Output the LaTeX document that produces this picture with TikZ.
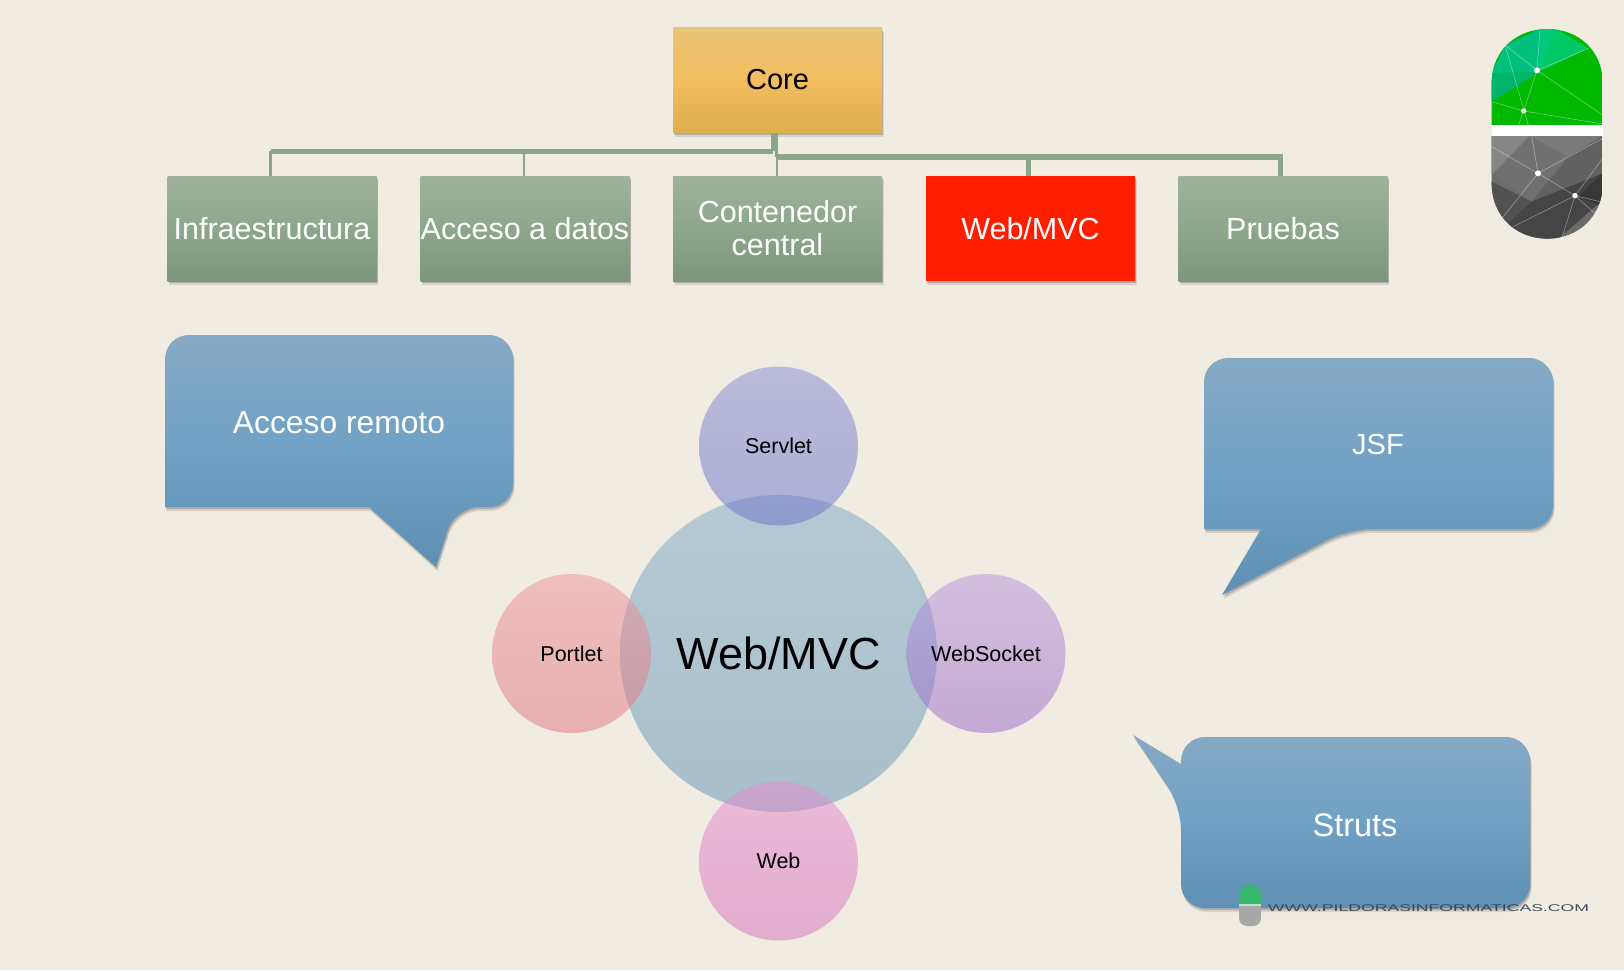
\documentclass[tikz,border=0pt]{standalone}
\usepackage{fontspec}
\setmainfont{Liberation Sans}
\usetikzlibrary{shadows}
\definecolor{pagebg}{HTML}{F0ECE2}
\definecolor{linegreen}{HTML}{8CA68C}
\begin{document}
\begin{tikzpicture}[x=1pt,y=-1pt,
	softshadow/.style={general shadow={shadow xshift=1.5pt,shadow yshift=-4pt,opacity=.1,fill=black},
		general shadow={shadow xshift=1pt,shadow yshift=-2pt,opacity=.18,fill=black}},
	orgbox/.style={rectangle,softshadow,minimum width=209pt,minimum height=105pt,inner sep=0pt,align=center},
	greenbox/.style={orgbox,top color=HTMLgreentop,bottom color=HTMLgreenbot,middle color=HTMLgreenmid,text=white,
		font=\fontsize{30.5}{33}\selectfont},
	bubble/.style={circle,inner sep=0pt,fill opacity=.5,text opacity=1,font=\fontsize{21.5}{24}\selectfont,minimum size=159pt},
	callout/.style={softshadow,top color=HTMLblue top,bottom color=HTMLblue bot,middle color=HTMLblue mid},
	callouttext/.style={text=white,inner sep=0pt},
	branch/.style={line width=5.3pt,color=linegreen},
	trunk/.style={line width=3.5pt,color=linegreen},
	facetline/.style={line width=.5pt,color=white,opacity=.45}]
	\useasboundingbox (0,0) rectangle (1624,970);
	\fill[pagebg] (0,0) rectangle (1624,970);

	%top row of boxes
	\colorlet{HTMLgreentop}{pagebg}
	\definecolor{HTMLgreentop}{HTML}{9FB29D}\definecolor{HTMLgreenmid}{HTML}{8CA78C}\definecolor{HTMLgreenbot}{HTML}{7B967A}
	\definecolor{HTMLblue top}{HTML}{87A9C4}\definecolor{HTMLblue mid}{HTML}{70A1C4}\definecolor{HTMLblue bot}{HTML}{5D90B4}
	\node[orgbox,top color={rgb,255:red,233;green,197;blue,120},bottom color={rgb,255:red,223;green,174;blue,78},
		middle color={rgb,255:red,242;green,189;blue,94},font=\fontsize{29}{33}\selectfont] (core) at (777.5,80){Core};
	\node[greenbox] (infra) at (272,228.5){Infraestructura};
	\node[greenbox] (datos) at (525,228.5){Acceso a datos};
	\node[greenbox] (contenedor) at (777.5,228.5){Contenedor\\central};
	\node[orgbox,fill={rgb,255:red,255;green,30;blue,0},text=white,font=\fontsize{30.5}{33}\selectfont] (webmvc) at (1030.5,228.5){Web/MVC};
	\node[greenbox] (pruebas) at (1283,228.5){Pruebas};

	%the two branches under core
	\coordinate (lefthub) at (773,151.3);
	\coordinate (righthub) at (776.5,157);
	\draw[trunk] (core.south -| lefthub) -- (lefthub);
	\draw[trunk] (core.south -| righthub) -- (righthub);
	\draw[branch] (lefthub) -- ([xshift=-1.5pt]lefthub -| infra.north);
	\draw[branch] (righthub) -- ([xshift=-.5pt]righthub -| pruebas.north);
	%drops down to the boxes
	\foreach \n/\s in {infra/-1.5,datos/-1,contenedor/-.5}{
		\draw[line width=2.8pt,color=linegreen] ([xshift=\s pt]\n.north |- lefthub) -- ([xshift=\s pt]\n.north);
		}
	\foreach \n/\s in {webmvc/-2.5,pruebas/-3}{
		\draw[line width=5pt,color=linegreen] ([xshift=\s pt]\n.north |- righthub) -- ([xshift=\s pt]\n.north);
		}

	%speech balloons
	\path[callout] [rounded corners=24pt] (300,335) -- (513,335) -- (513,507) -- (455,507) [sharp corners]
		-- (436,567) -- (369,507) -- (165,507) [rounded corners=24pt] -- (165,335) -- cycle;
	\node[callouttext,font=\fontsize{31.8}{34}\selectfont] (remoto) at (339,423){Acceso remoto};
	\path[callout] [rounded corners=24pt] (1380,358) -- (1553,358) -- (1553,529) -- (1348,529) [sharp corners]
		-- (1222,595) -- (1261,529) -- (1204,529) [rounded corners=24pt] -- (1204,358) -- cycle;
	\node[callouttext,font=\fontsize{29}{34}\selectfont] (jsf) at (1378,445){JSF};
	\path[callout] [rounded corners=24pt] (1300,737) -- (1530,737) -- (1530,908) -- (1181,908) -- (1181,806) [sharp corners]
		-- (1133,735) -- (1181,764) -- (1181,761) [rounded corners=24pt] -- (1181,737) -- cycle;
	\node[callouttext,font=\fontsize{32.5}{34}\selectfont] (struts) at (1355,825){Struts};

	%circles
	\node[bubble,minimum size=317pt,top color={rgb,255:red,122;green,168;blue,198},bottom color={rgb,255:red,98;green,148;blue,182},
		font=\fontsize{45}{50}\selectfont] (centro) at (778.5,653.5){Web/MVC};
	\node[bubble,top color={rgb,255:red,134;green,140;blue,212},bottom color={rgb,255:red,104;green,112;blue,200}] (servlet) at (778.5,446){Servlet};
	\node[bubble,top color={rgb,255:red,240;green,146;blue,156},bottom color={rgb,255:red,224;green,116;blue,126}] (portlet) at (571.5,653.5){Portlet};
	\node[bubble,top color={rgb,255:red,182;green,148;blue,222},bottom color={rgb,255:red,154;green,104;blue,200}] (websocket) at (986,653.5){WebSocket};
	\node[bubble,top color={rgb,255:red,232;green,140;blue,208},bottom color={rgb,255:red,214;green,112;blue,186}] (web) at (778.5,861){Web};

	%big pill, in the units of a 3x crop
	\begin{scope}[shift={(1440,0)},x=.33333pt,y=-.33333pt]
		\begin{scope}
			\clip (155,376) -- (155,250) .. controls (155,150) and (230,87) .. (322,87) .. controls (414,87) and (488,150) .. (488,250) -- (488,376) -- cycle;
			\fill[color={rgb,255:red,0;green,185;blue,0}] (150,80) rectangle (490,376);
			\fill[color={rgb,255:red,0;green,192;blue,125}] (155,220) -- (195,135) -- (300,87) -- (300,215) -- (155,220);
			\fill[color={rgb,255:red,0;green,180;blue,105}] (155,220) -- (300,215) -- (155,305) -- cycle;
			\fill[color={rgb,255:red,0;green,200;blue,125}] (300,87) -- (350,87) -- (300,215) -- cycle;
			\fill[color={rgb,255:red,0;green,200;blue,100}] (350,87) -- (445,145) -- (300,215) -- cycle;
			\draw[facetline] (291,211) -- (300,87) (291,211) -- (195,135) (291,211) -- (445,145) (291,211) -- (251,333) -- (235,376);
			\draw[facetline] (291,211) -- (488,345) (195,135) -- (265,376) (155,305) -- (251,333) -- (488,372);
			\fill[white] (291,211) circle (9) (251,333) circle (8);
		\end{scope}
		\fill[white] (155,376) rectangle (488,408);
		\begin{scope}
			\clip (155,408) -- (155,550) .. controls (155,650) and (230,716) .. (322,716) .. controls (414,716) and (488,650) .. (488,550) -- (488,408) -- cycle;
			\fill[color=black!58] (150,405) rectangle (490,720);
			\fill[color=black!48] (155,408) -- (270,408) -- (160,520) -- (155,520) -- cycle;
			\fill[color=black!56] (270,408) -- (385,470) -- (275,605) -- (160,520) -- cycle;
			\fill[color=black!52] (270,408) -- (488,408) -- (385,470) -- cycle;
			\fill[color=black!62] (385,470) -- (488,408) -- (488,520) -- (275,605) -- cycle;
			\fill[color=black!68] (155,545) -- (275,605) -- (190,680) -- (155,680) -- cycle;
			\fill[color=black!73] (275,605) -- (488,520) -- (488,600) -- (350,720) -- (220,720) -- (190,680) -- cycle;
			\fill[color=black!78] (488,520) -- (488,620) -- (415,590) -- cycle;
			\draw[facetline] (155,440) -- (294,520) -- (405,587) -- (480,605) (294,520) -- (488,415) (294,520) -- (275,408);
			\draw[facetline] (294,520) -- (190,650) (405,587) -- (220,680) (405,587) -- (488,475) (405,587) -- (365,716) (405,587) -- (465,640);
			\fill[white] (294,520) circle (9) (405,587) circle (8);
		\end{scope}
	\end{scope}

	%watermark
	\fill[color={rgb,255:red,168;green,168;blue,168},rounded corners=8pt] (1239,896) rectangle (1261,926);
	\fill[color={rgb,255:red,50;green,184;blue,104},rounded corners=8pt] (1239,886) rectangle (1261,912);
	\fill[color={rgb,255:red,192;green,224;blue,208}] (1239,904) rectangle (1261,906);
	\fill[color={rgb,255:red,168;green,168;blue,168}] (1239,906) rectangle (1261,914);
	\node[xscale=1.8,text={rgb,255:red,60;green,74;blue,88},font=\fontsize{9.8}{10}\selectfont,inner sep=0pt] (sitio) at (1428.5,908){WWW.PILDORASINFORMATICAS.COM};
\end{tikzpicture}
\end{document}
